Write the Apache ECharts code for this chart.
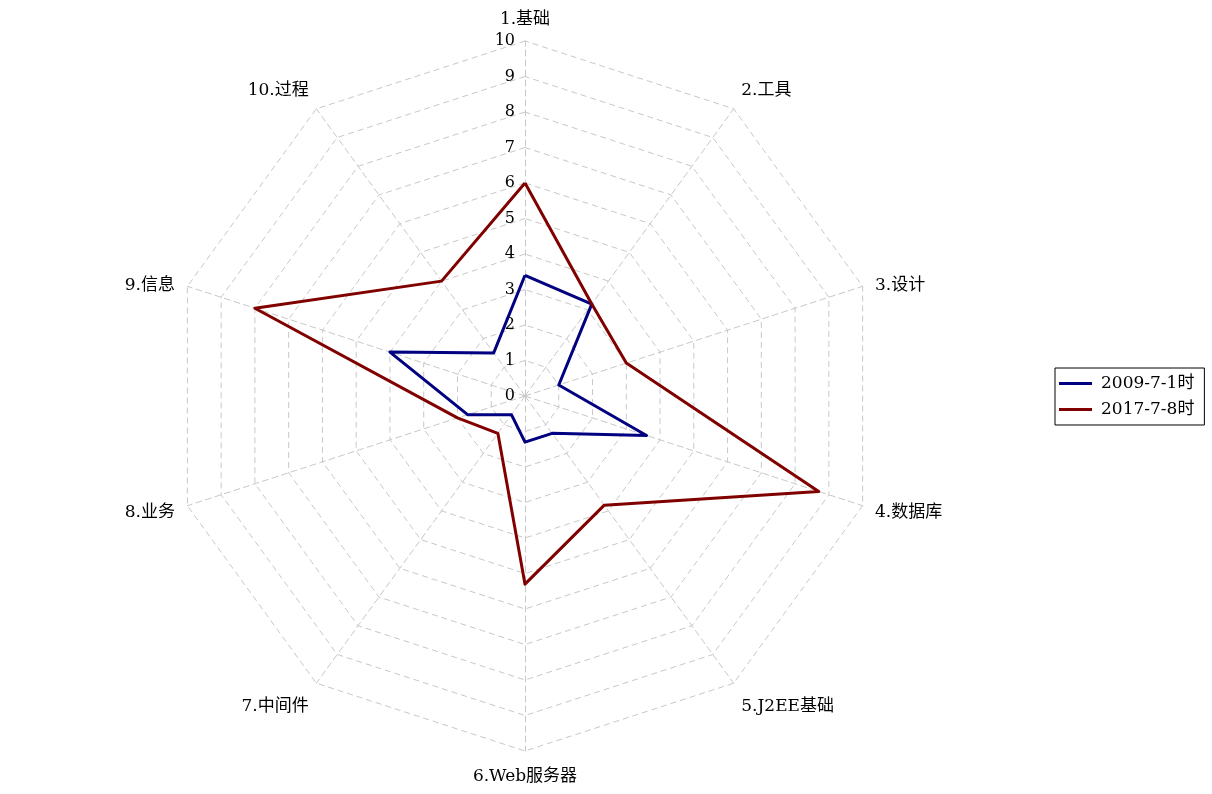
<!DOCTYPE html>
<html>
<head>
    <meta charset="utf-8" />
    <title>雷达图</title>
    <script src="https://cdn.jsdelivr.net/npm/echarts@6/dist/echarts.min.js"></script>
    <style type="text/css">
        html,
        body {
            width: 100%;
            height: 100%;
            margin: 0;
            background: #fff;
        }

        #main {
            width: 1212px;
            height: 794px;
        }
    </style>
</head>
<body>
    <div id="main"></div>
    <script>
        // 指标名称（顺时针顺序）
        var indicators = ['1.基础', '2.工具', '3.设计', '4.数据库', '5.J2EE基础',
            '6.Web服务器', '7.中间件', '8.业务', '9.信息', '10.过程'];
        var maxValue = 10;
        // 两次评估的数据
        var seriesNames = ['2009-7-1时', '2017-7-8时'];
        var values2009 = [3.4, 3.2, 1.0, 3.6, 1.3, 1.3, 0.65, 1.7, 4.0, 1.5];
        var values2017 = [6.0, 3.2, 3.0, 8.7, 3.8, 5.3, 1.3, 2.0, 8.0, 4.0];
        var seriesColors = ['#000080', '#800000'];

        // echarts雷达图按逆时针排列，保留第一项，其余倒序即可变成顺时针
        function toClockwise(arr) {
            return [arr[0]].concat(arr.slice(1).reverse());
        }

        var fontFamily = '"DejaVu Serif", "Noto Sans CJK SC", serif';
        var gridStyle = { color: '#c8c8c8', width: 1, type: [6, 4] };

        // 各指标名称的微调样式（按顺时针序号）
        var nameStyleKey = ['t', 'up', 's', 's', 'dn', 'b', 'dn', 's', 's', 'up'];
        function nameRich(padding) {
            return { color: '#000', fontSize: 17, fontFamily: fontFamily, padding: padding };
        }

        var myChart = echarts.init(document.getElementById('main'));

        var option = {
            backgroundColor: '#fff',
            animation: false,
            textStyle: { fontFamily: fontFamily },
            legend: {
                orient: 'vertical',
                left: 1055,
                top: 368,
                data: seriesNames,
                icon: 'rect',
                itemWidth: 33,
                itemHeight: 3,
                itemGap: 9,
                padding: [7, 10, 7, 4],
                borderColor: '#000',
                borderWidth: 1,
                borderRadius: 0,
                textStyle: {
                    color: '#000', fontSize: 17, fontFamily: fontFamily,
                    padding: [0, 0, 0, 4]
                }
            },
            radar: {
                center: [525, 396],
                radius: 355,
                startAngle: 90,
                splitNumber: 10,
                shape: 'polygon',
                nameGap: 13,
                axisName: {
                    color: '#000', fontSize: 17, fontFamily: fontFamily,
                    formatter: function (name) {
                        var i = indicators.indexOf(name);
                        return '{' + nameStyleKey[i] + '|' + name + '}';
                    },
                    rich: {
                        t: nameRich(0),
                        up: nameRich([0, 0, 16, 0]),
                        s: nameRich([6, 0, 0, 0]),
                        dn: nameRich([26, 0, 0, 0]),
                        b: nameRich([4, 0, 0, 0])
                    }
                },
                axisLine: { lineStyle: gridStyle },
                splitLine: { lineStyle: gridStyle },
                splitArea: { show: false },
                axisTick: { show: false },
                axisLabel: { show: false },
                indicator: toClockwise(indicators).map(function (name, i) {
                    var item = { name: name, max: maxValue, min: 0 };
                    if (i === 0) {
                        // 只在第一根轴上显示刻度
                        item.axisLabel = {
                            show: true, color: '#000', fontSize: 16,
                            fontFamily: fontFamily, margin: 10
                        };
                    }
                    return item;
                })
            },
            series: [
                {
                    type: 'radar',
                    symbol: 'none',
                    data: [
                        {
                            name: seriesNames[0],
                            value: toClockwise(values2009),
                            lineStyle: { color: seriesColors[0], width: 3 },
                            itemStyle: { color: seriesColors[0] }
                        },
                        {
                            name: seriesNames[1],
                            value: toClockwise(values2017),
                            lineStyle: { color: seriesColors[1], width: 3 },
                            itemStyle: { color: seriesColors[1] }
                        }
                    ]
                }
            ]
        };

        myChart.setOption(option);
    </script>
</body>
</html>
